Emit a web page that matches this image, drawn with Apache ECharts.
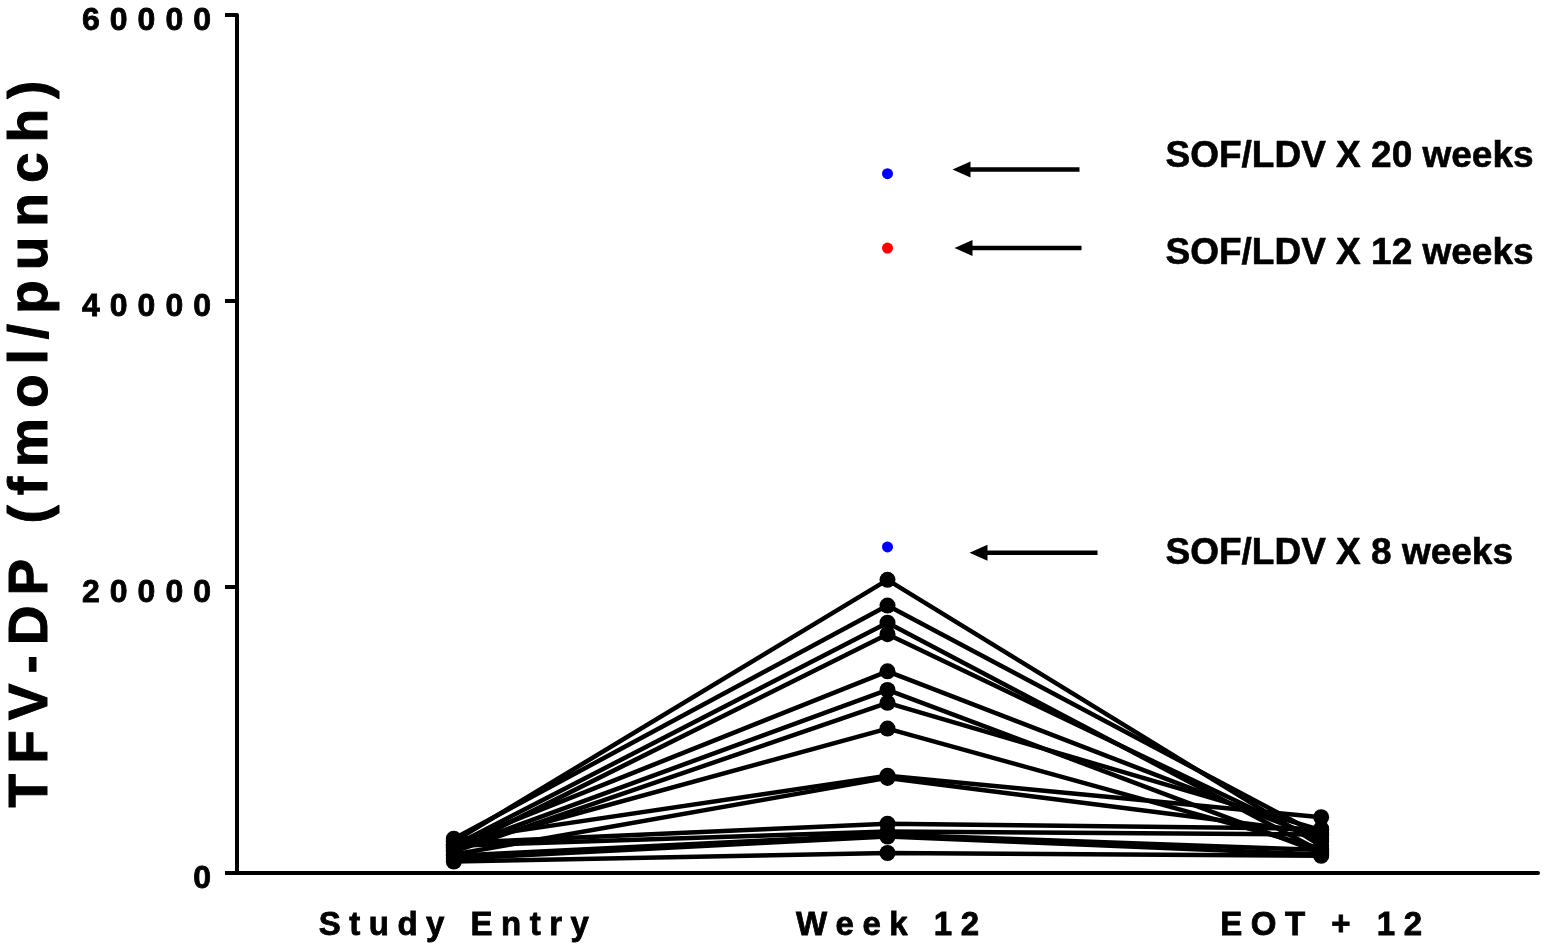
<!DOCTYPE html>
<html>
<head>
<meta charset="utf-8">
<title>TFV-DP by visit</title>
<script src="https://cdn.jsdelivr.net/npm/echarts@6/dist/echarts.min.js"></script>
<style>
  html, body { margin: 0; padding: 0; background: #fff; }
  #chart { width: 1542px; height: 943px; }
</style>
</head>
<body>
<div id="chart"></div>
<script>
// Visits on the x axis
const categories = ['Study Entry', 'Week 12', 'EOT + 12'];

// TFV-DP (fmol/punch) per participant, one entry per participant in each array
const studyEntry = [2200, 2400, 1900, 1600, 2000, 1700, 1500, 1800, 2300, 1300, 2100, 1900, 1200, 1000, 800];
const week12     = [20500, 18700, 17500, 16700, 14100, 12800, 11900, 10100, 6800, 6650, 3450, 2900, 2700, 2550, 1400];
const eotPlus12  = [1900, 2600, 1500, 2200, 2400, 1400, 3000, 1700, 3900, 2800, 3100, 2700, 1600, 1300, 1200];

// Single Week 12 values from participants on SOF/LDV
const sofBlue = [48900, 22800];
const sofRed  = [43700];

// Annotations: label text and the level each arrow points at
const noteLabels = ['SOF/LDV X 20 weeks', 'SOF/LDV X 12 weeks', 'SOF/LDV X 8 weeks'];
const noteArrowLevels = [49200, 43700, 22400];
const noteTextLevels  = [50100, 43300, 22300];

// Y axis ticks
const yTicks = [0, 20000, 40000, 60000];

const FONT = '"Liberation Sans", Arial, Helvetica, sans-serif';

// letter-spaced rich text: every glyph after the first gets left padding
function spaced(str, first, rest) {
  return str.split('').map((c, i) => '{' + (i ? rest : first) + '|' + c + '}').join('');
}
function spacedStyles(size, gap, stroke) {
  const base = {
    fontSize: size, fontWeight: 'bold', fontFamily: FONT, color: '#000',
    textBorderColor: '#000', textBorderWidth: stroke
  };
  return { f: Object.assign({}, base), g: Object.assign({ padding: [0, 0, 0, gap] }, base) };
}

const chart = echarts.init(document.getElementById('chart'), null, { renderer: 'canvas' });

const lineSeries = studyEntry.map((v, i) => ({
  type: 'line',
  data: [v, week12[i], eotPlus12[i]],
  symbol: 'circle',
  symbolSize: 16,
  showSymbol: true,
  itemStyle: { color: '#000' },
  lineStyle: { color: '#000', width: 4.5 },
  z: 2,
  silent: true
}));

const option = {
  animation: false,
  backgroundColor: '#fff',
  grid: { left: 237, right: 4, top: 15, bottom: 70, containLabel: false, outerBoundsMode: 'none' },
  xAxis: {
    type: 'category',
    data: categories,
    boundaryGap: true,
    axisLine: { lineStyle: { color: '#000', width: 4 } },
    axisTick: { alignWithLabel: true, interval: 0, length: 12, lineStyle: { color: '#000', width: 4 } },
    axisLabel: {
      interval: 0,
      hideOverlap: false,
      margin: 36,
      fontSize: 33,
      formatter: v => spaced(v, 'f', 'g'),
      rich: spacedStyles(33, 8.5, 0.8)
    },
    splitLine: { show: false }
  },
  yAxis: {
    type: 'value',
    min: yTicks[0],
    max: yTicks[yTicks.length - 1],
    interval: yTicks[1] - yTicks[0],
    name: spaced('TFV-DP (fmol/punch)', 'f', 'g'),
    nameLocation: 'middle',
    nameGap: 178,
    nameTextStyle: { fontSize: 55, rich: spacedStyles(55, 10, 1) },
    axisLine: { show: true, lineStyle: { color: '#000', width: 4 } },
    axisTick: { show: true, length: 12, lineStyle: { color: '#000', width: 4 } },
    axisLabel: {
      margin: 26,
      fontSize: 32,
      padding: [12, 0, 0, 0],
      formatter: v => spaced(String(v), 'f', 'g'),
      rich: spacedStyles(32, 10, 0.8)
    },
    splitLine: { show: false }
  },
  series: lineSeries.concat([
    {
      type: 'scatter',
      data: sofBlue.map(v => [categories[1], v]),
      symbol: 'circle',
      symbolSize: 11,
      itemStyle: { color: '#0000ff', opacity: 1 },
      z: 3
    },
    {
      type: 'scatter',
      data: sofRed.map(v => [categories[1], v]),
      symbol: 'circle',
      symbolSize: 11,
      itemStyle: { color: '#ff0000', opacity: 1 },
      z: 3
    }
  ])
};

chart.setOption(option);

// Arrows and labels placed from the Week 12 column and the value scale
const arrowTipOffsets  = [65, 67, 82];   // px right of the Week 12 column
const arrowTailOffsets = [192, 194, 210];
const labelOffset = 278;

const graphics = [];
noteLabels.forEach((label, i) => {
  const pA = chart.convertToPixel({ gridIndex: 0 }, [1, noteArrowLevels[i]]);
  const pT = chart.convertToPixel({ gridIndex: 0 }, [1, noteTextLevels[i]]);
  const tip = pA[0] + arrowTipOffsets[i];
  const tail = pA[0] + arrowTailOffsets[i];
  const y = pA[1];
  graphics.push({
    type: 'line',
    shape: { x1: tip + 12, y1: y, x2: tail, y2: y },
    style: { stroke: '#000', lineWidth: 4.5 },
    silent: true
  });
  graphics.push({
    type: 'polygon',
    shape: { points: [[tip, y], [tip + 18, y - 8], [tip + 18, y + 8]] },
    style: { fill: '#000' },
    silent: true
  });
  graphics.push({
    type: 'text',
    x: pT[0] + labelOffset,
    y: pT[1],
    style: {
      text: label,
      font: 'bold 37px ' + FONT,
      fill: '#000',
      stroke: '#000',
      lineWidth: 0.6,
      textAlign: 'left',
      textVerticalAlign: 'middle',
      verticalAlign: 'middle'
    },
    silent: true
  });
});
chart.setOption({ graphic: graphics });
</script>
</body>
</html>
